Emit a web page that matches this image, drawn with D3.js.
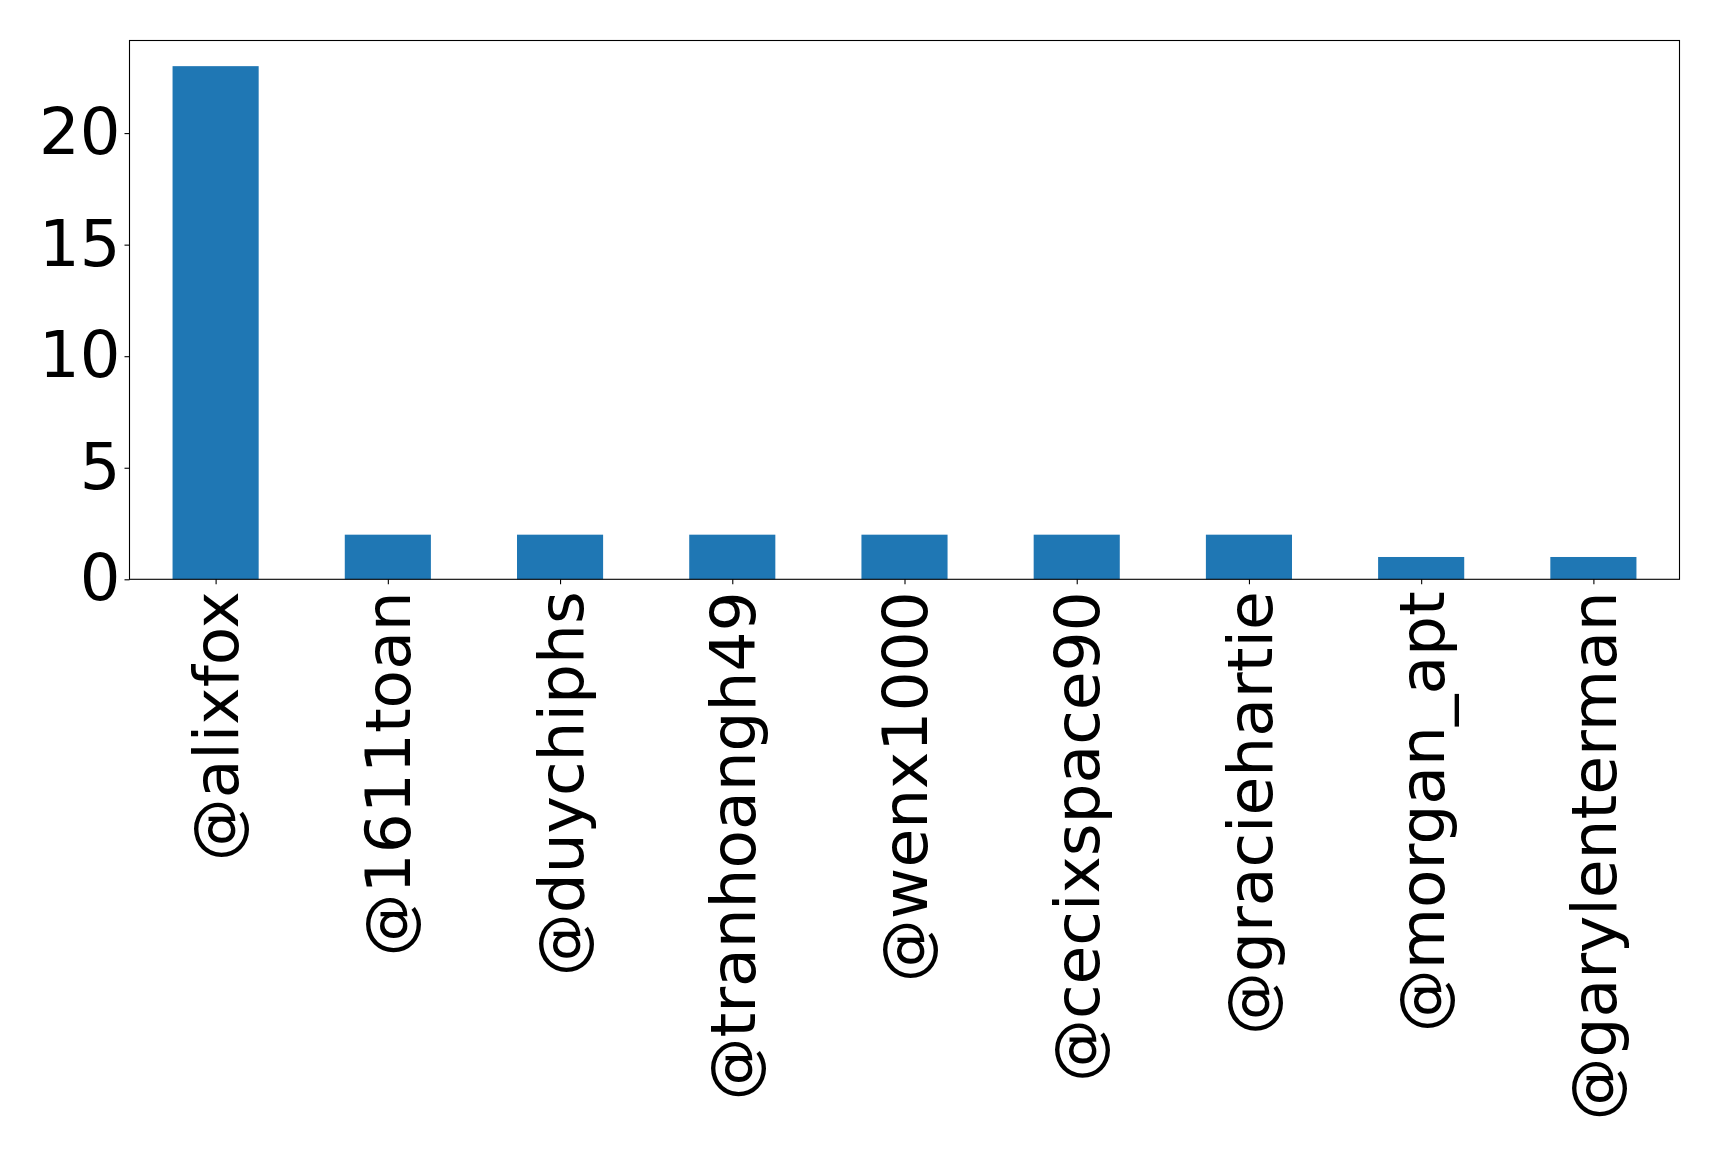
<!DOCTYPE html>
<html>
<head>
<meta charset="utf-8">
<script src="https://cdn.jsdelivr.net/npm/d3@7"></script>
<style>
  body { margin: 0; background: #fff; }
  text { font-family: "DejaVu Sans", sans-serif; }
</style>
</head>
<body>
<script>
'use strict';

// chart data
const users = ["@alixfox", "@1611toan", "@duychiphs", "@tranhoangh49", "@wenx1000",
  "@cecixspace90", "@graciehartie", "@morgan_apt", "@garylenterman"];
const counts = [23, 2, 2, 2, 2, 2, 2, 1, 1];
const yTicks = [0, 5, 10, 15, 20];

(function () {
  const width = 1719, height = 1153;
  const margin = { left: 129.5, right: 39.5, top: 40.5, bottom: 573.7 };

  let svg = d3.select('body')
    .append('svg')
    .attr('width', width)
    .attr('height', height);

  // x positions: one unit per bar, bars half a unit wide
  let xScale = d3.scaleLinear()
    .domain([-0.5, users.length - 0.5])
    .range([margin.left, width - margin.right]);

  let yScale = d3.scaleLinear()
    .domain([0, d3.max(counts) * 1.05])
    .range([height - margin.bottom, margin.top]);

  // bars
  svg.selectAll('.bar')
    .data(counts)
    .enter()
    .append('rect')
    .attr('class', 'bar')
    .attr('x', (d, i) => xScale(i - 0.25))
    .attr('width', xScale(0.25) - xScale(-0.25))
    .attr('y', (d) => yScale(d))
    .attr('height', (d) => yScale(0) - yScale(d))
    .attr('fill', '#1f77b4');

  // y axis
  let yAxis = d3.axisLeft(yScale)
    .tickValues(yTicks)
    .tickSize(5)
    .tickPadding(4);
  let gy = svg.append('g')
    .attr('transform', `translate(${margin.left}, 0)`)
    .call(yAxis);
  gy.select('.domain').remove();
  gy.selectAll('line').attr('stroke', '#000').attr('stroke-width', 1.1);
  gy.selectAll('text')
    .style('font-size', '64px')
    .attr('fill', '#000');

  // x axis with rotated labels
  let xAxis = d3.axisBottom(xScale)
    .tickValues(d3.range(users.length))
    .tickFormat((i) => users[i])
    .tickSize(5);
  let gx = svg.append('g')
    .attr('transform', `translate(0, ${yScale(0)})`)
    .call(xAxis);
  gx.select('.domain').remove();
  gx.selectAll('line').attr('stroke', '#000').attr('stroke-width', 1.1);
  gx.selectAll('text')
    .style('font-size', '63px')
    .attr('fill', '#000')
    .attr('y', 0)
    .attr('dy', '0.35em')
    .attr('text-anchor', 'end')
    .attr('transform', 'translate(0, 12) rotate(-90)');

  // frame
  svg.append('rect')
    .attr('x', xScale.range()[0])
    .attr('y', yScale.range()[1])
    .attr('width', xScale.range()[1] - xScale.range()[0])
    .attr('height', yScale.range()[0] - yScale.range()[1])
    .attr('fill', 'none')
    .attr('stroke', '#000')
    .attr('stroke-width', 1.1);
})();
</script>
</body>
</html>
